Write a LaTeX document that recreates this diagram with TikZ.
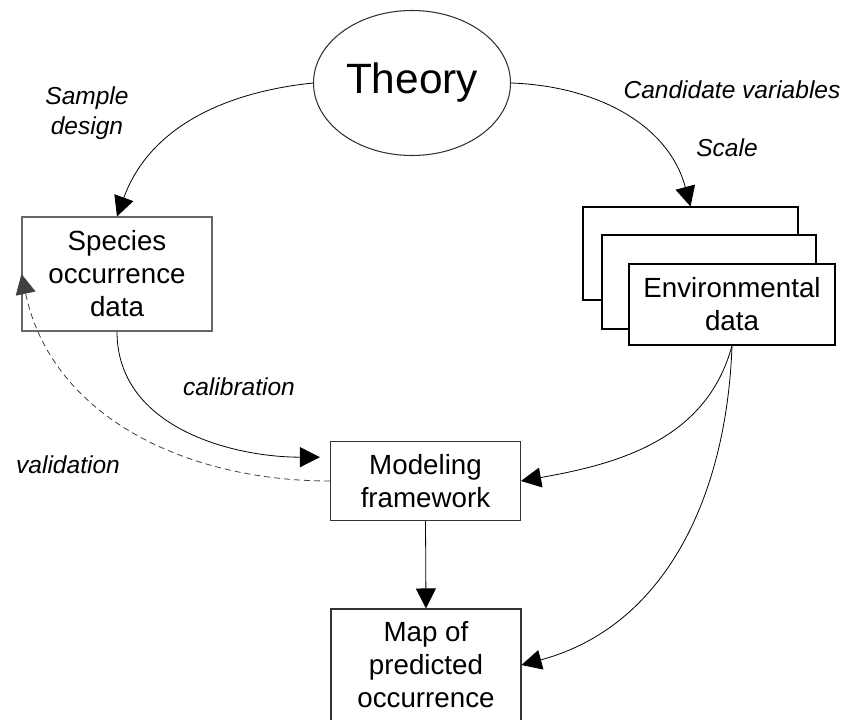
\documentclass[tikz,border=0pt]{standalone}
\usepackage{fontspec}
\setmainfont{Liberation Sans}
\usetikzlibrary{arrows.meta,shapes.geometric}

\tikzset{
  box/.style={draw=black!80, line width=0.8pt, fill=white, inner sep=0pt,
    minimum width=142.5pt, align=center, font=\fontsize{20.8}{24.75}\selectfont},
  envbox/.style={draw=black, line width=0.8pt, fill=white, inner sep=0pt},
  lbl/.style={font=\fontsize{18.4}{22.5}\selectfont\itshape, align=center},
  conn/.style={line width=0.6pt, -{Triangle[length=15pt,width=15pt]}},
}

\begin{document}
\begin{tikzpicture}[x=0.75pt, y=-0.75pt]
	%%%%% START %%%%%
	\useasboundingbox (0,0) rectangle (846,720);
	
	\node[ellipse, draw=black!80, line width=0.8pt, inner sep=0pt, minimum width=147.75pt,
	  minimum height=108.75pt, font=\fontsize{31.8}{36}\selectfont] (theory) at (412,83) {Theory};
	
	\node[box, draw=black!60, minimum height=85.5pt] (species) at (117,274) {Species\\occurrence\\data};
	
	\node[envbox, minimum width=161.25pt, minimum height=69.75pt] (envback) at (690.5,253.5) {};
	\node[envbox, minimum width=160.5pt, minimum height=70.5pt] (envmid) at (709,282) {};
	\node[box, draw=black, minimum width=154.5pt, minimum height=60.75pt] (env) at (732,304.5) {Environmental\\data};
	
	\node[box, minimum height=59.25pt] (model) at (425.5,481) {Modeling\\framework};
	\node[box, minimum height=84pt] (map) at (426,665) {Map of\\predicted\\occurrence};
	
	\node[lbl] (lsample) at (87,113) {Sample\\design};
	\node[lbl] (lcand) at (732,90) {Candidate variables};
	\node[lbl] (lscale) at (727,148) {Scale};
	\node[lbl] (lcalib) at (239,387) {calibration};
	\node[lbl] (lvalid) at (68,465) {validation};
	
	\draw[conn] (theory.west) to[out=186,in=70] (species.north);
	\draw[conn] (theory.east) to[out=-2,in=105] (envback.north);
	\draw[conn, shorten >=7.5pt] (species.south) to[out=-90,in=180] (model.166);
	\draw[conn, black!75, dash pattern=on 4.5pt off 3pt] (model.west) to[out=180,in=-78] (species.west);
	\draw[conn] (env.south) to[out=-105,in=10] (model.east);
	\draw[conn] (env.south) to[out=-92,in=15] (map.east);
	\draw[conn] (model.south) -- (map.north);
	
	%%%%% END %%%%%
\end{tikzpicture}
\end{document}
